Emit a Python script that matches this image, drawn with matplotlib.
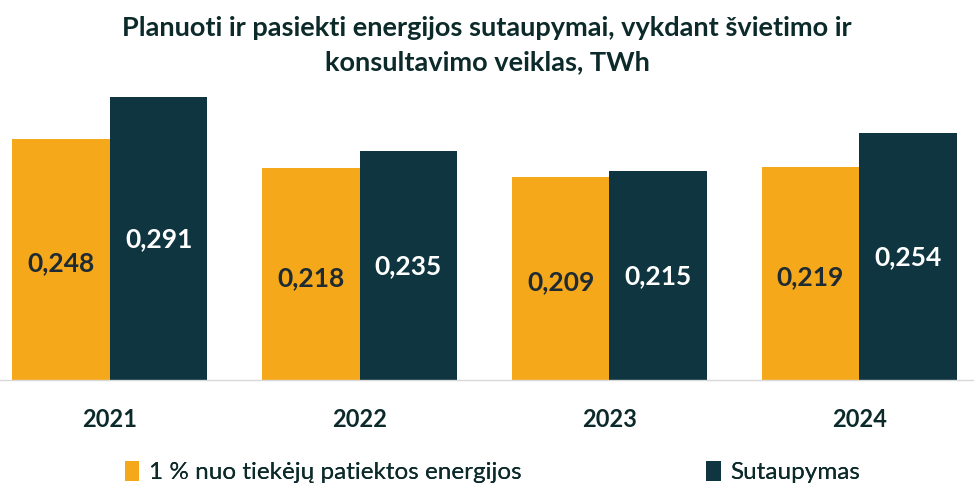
import matplotlib
matplotlib.use("Agg")
import matplotlib.pyplot as plt
import numpy as np

years = ["2021", "2022", "2023", "2024"]
planned = [0.248, 0.218, 0.209, 0.219]
achieved = [0.291, 0.235, 0.215, 0.254]
labels_planned = ["0,248", "0,218", "0,209", "0,219"]
labels_achieved = ["0,291", "0,235", "0,215", "0,254"]
series_names = ["1 % nuo tiekėjų patiektos energijos", "Sutaupymas"]
title = "Planuoti ir pasiekti energijos sutaupymai, vykdant švietimo ir\nkonsultavimo veiklas, TWh"

ORANGE = "#F6A81B"
NAVY = "#0E3540"
TEXT = "#0D2A2A"

plt.rcParams['font.family'] = ['Lato', 'DejaVu Sans']

fig = plt.figure(figsize=(9.74, 4.9), dpi=100)
ax = fig.add_axes([0.0, 0.2245, 1.0, 0.5959])

x = np.arange(len(years))
w = 0.39
b1 = ax.bar(x - w/2, planned, w, color=ORANGE, label=series_names[0])
b2 = ax.bar(x + w/2, achieved, w, color=NAVY, label=series_names[1])

for xi, v, s in zip(x, planned, labels_planned):
    ax.text(xi - w/2, v/2 - 0.004, s, ha='center', va='center', fontsize=19,
            fontweight='bold', color="#1E2B33")
for xi, v, s in zip(x, achieved, labels_achieved):
    ax.text(xi + w/2, v/2 - 0.001, s, ha='center', va='center', fontsize=19,
            fontweight='bold', color="white")

ax.set_xlim(-0.44, 3.46)
ax.set_ylim(0, 0.3)
ax.set_yticks([])
ax.set_xticks(x)
ax.set_xticklabels(years, fontsize=17, fontweight='bold', color=TEXT)
ax.tick_params(axis='x', length=0, pad=20)
for sp in ['top', 'left', 'right']:
    ax.spines[sp].set_visible(False)
ax.spines['bottom'].set_color('#D9D9D9')
ax.spines['bottom'].set_linewidth(1)

fig.text(0.5, 0.968, title, ha='center', va='top', fontsize=19.5, fontweight='bold',
         color=TEXT, linespacing=1.5)

positions = [0.128, 0.725]
for h, name, px in zip([b1, b2], series_names, positions):
    leg = fig.legend(handles=[h], labels=[name], loc='center left',
                     bbox_to_anchor=(px, 0.037), frameon=False, fontsize=17.5,
                     handlelength=0.6, handleheight=0.9, handletextpad=0.4,
                     borderpad=0, borderaxespad=0)
    for t in leg.get_texts():
        t.set_color(TEXT)
    fig.add_artist(leg)

fig.savefig("out.png", dpi=100, facecolor="white")
